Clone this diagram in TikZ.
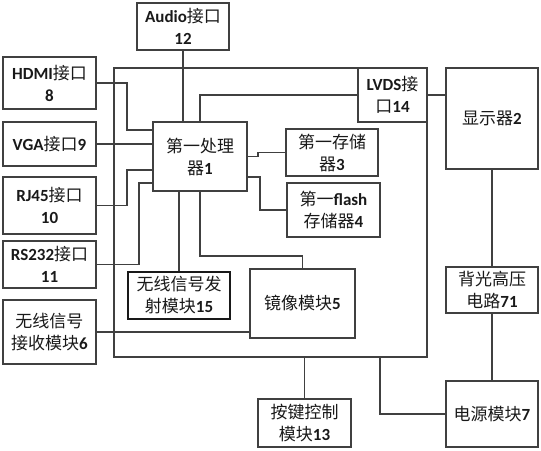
\documentclass[tikz,border=0pt]{standalone}
\usepackage{fontspec}
\setmainfont{Noto Sans CJK SC}
\newfontfamily\carl{Carlito}
\newcommand\B[1]{{\carl\bfseries #1}}
\begin{document}
\begin{tikzpicture}[x=1pt,y=-1pt,
  line/.style={draw=black!75,line width=1.6pt},
  box/.style={line,rectangle,inner sep=0pt,align=center,
    font=\fontsize{17}{22}\selectfont,text=black!90}]
\useasboundingbox (0,0) rectangle (541,450);
% outer frame
\draw[line] (114,68) rectangle (427,357);
% boxes
\node[box,minimum width=92,minimum height=47] (audio) at (183,26.5) {\B{Audio}接口\\\B{12}};
\node[box,minimum width=93,minimum height=52] (hdmi) at (49.5,83) {\B{HDMI}接口\\\B{8}};
\node[box,minimum width=93,minimum height=44] (vga) at (49.5,144) {\B{VGA}接口\B{9}};
\node[box,minimum width=93,minimum height=57] (rj45) at (49.5,205.5) {\B{RJ45}接口\\\B{10}};
\node[box,minimum width=93,minimum height=47] (rs232) at (49.5,264.5) {\B{RS232}接口\\\B{11}};
\node[box,minimum width=93,minimum height=64] (rx) at (49.5,332) {无线信号\\接收模块\B{6}};
\node[box,fill=white,minimum width=94,minimum height=69] (proc) at (200,156.5) {第一处理\\器\B{1}};
\node[box,line width=2.3pt,draw=black!90,minimum width=102,minimum height=47] (tx) at (179,295.5) {无线信号发\\射模块\B{15}};
\node[box,minimum width=105,minimum height=69] (mirror) at (302.5,303.5) {镜像模块\B{5}};
\node[box,minimum width=92,minimum height=47] (store) at (332,152.5) {第一存储\\器\B{3}};
\node[box,minimum width=93,minimum height=54] (flash) at (333.5,210) {第一\B{flash}\\存储器\B{4}};
\node[box,fill=white,minimum width=69,minimum height=54] (lvds) at (392.5,95) {\B{LVDS}接\\口\B{14}};
\node[box,minimum width=92,minimum height=101] (disp) at (492,118.5) {显示器\B{2}};
\node[box,minimum width=92,minimum height=46] (back) at (492,290) {背光高压\\电路\B{71}};
\node[box,minimum width=92,minimum height=66] (power) at (492,414) {电源模块\B{7}};
\node[box,minimum width=93,minimum height=48] (key) at (304.5,423) {按键控制\\模块\B{13}};
% connectors
\draw[line] (audio.south) -- (audio.south |- proc.north);
\draw[line] (proc.north) |- (lvds.west);
\draw[line] (lvds.east) -- (lvds.east -| disp.west);
\draw[line] (hdmi.east) -| (127,130) -- (proc.west |- 0,130);
\draw[line] (vga.east) -- (vga.east -| proc.west);
\draw[line] (rj45.east) -| (127,170) -- (proc.west |- 0,170);
\draw[line] (rs232.east) -| (139,183) -- (proc.west |- 0,183);
\draw[line] (tx.north) -- (tx.north |- proc.south);
\draw[line] (proc.south) -- (200,256) -| (mirror.north);
\draw[line] (proc.east) -- (258,156.5) |- (store.west);
\draw[line] (proc.east |- 0,177) -| (260,210) -- (flash.west);
\draw[line] (rx.east) -- (rx.east -| mirror.west);
\draw[line] (disp.south) -- (back.north);
\draw[line] (back.south) -- (power.north);
\draw[line] (power.west) -| (380,357);
\draw[line] (key.north) -- (key.north |- 0,357);
\end{tikzpicture}
\end{document}
